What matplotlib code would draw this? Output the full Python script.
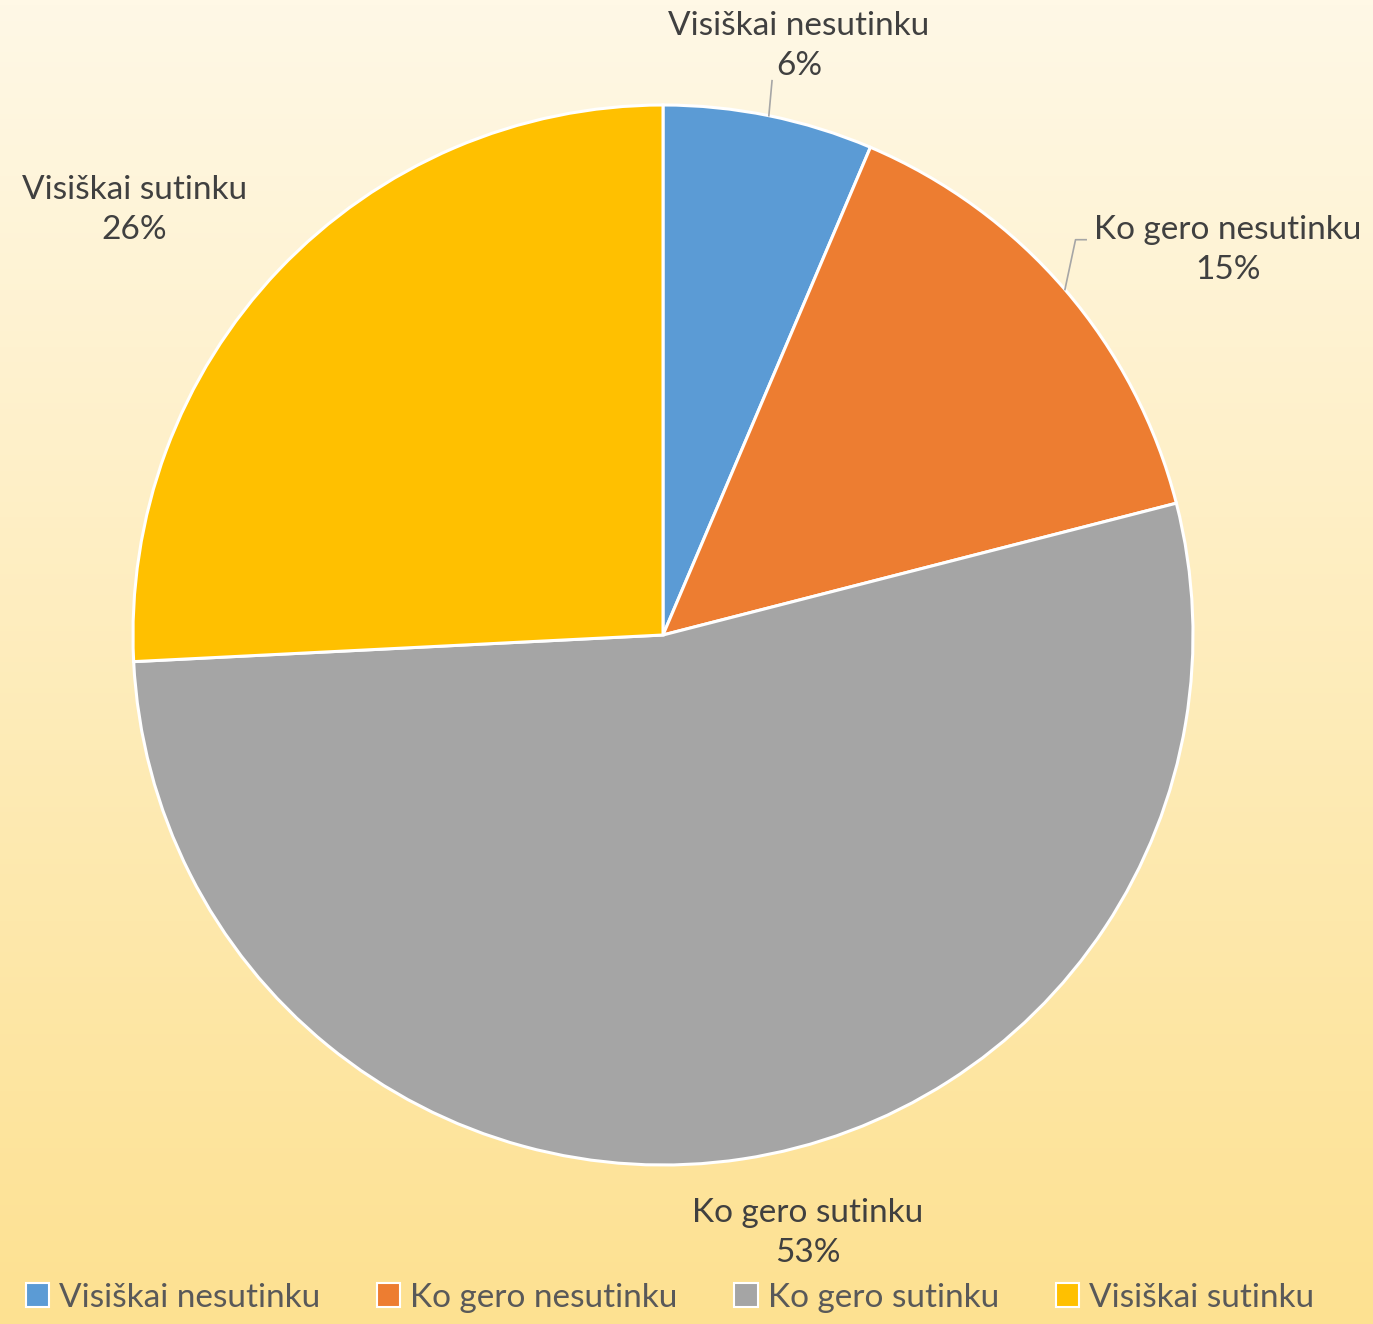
import numpy as np
import matplotlib.pyplot as plt
from matplotlib.colors import LinearSegmentedColormap

# --- Dados ---
categories = ['Visiškai nesutinku', 'Ko gero nesutinku', 'Ko gero sutinku', 'Visiškai sutinku']
shares = [6.4, 14.6, 53.2, 25.8]
pct_labels = ['6%', '15%', '53%', '26%']
colors = ['#5B9BD5', '#ED7D31', '#A5A5A5', '#FFC000']

TEXT = '#404040'
plt.rcParams['font.family'] = ['Lato', 'DejaVu Sans']

W, H = 1373, 1324
fig = plt.figure(figsize=(W / 100, H / 100), dpi=100)

# fundo em degradê
bg = fig.add_axes([0, 0, 1, 1])
grad = LinearSegmentedColormap.from_list('bg', ['#FFF8E6', '#FDE191'])
bg.imshow(np.linspace(0, 1, 256).reshape(-1, 1), aspect='auto', cmap=grad,
          extent=[0, 1, 0, 1], origin='upper')
bg.set_axis_off()

# eixo da pizza (centro ~ (663, 635), raio ~ 530 px)
cx, cy, r = 663, 635, 530
ax = fig.add_axes([(cx - r) / W, 1 - (cy + r) / H, 2 * r / W, 2 * r / H])
wedges, _ = ax.pie(shares, colors=colors, startangle=90, counterclock=False,
                   wedgeprops=dict(edgecolor='white', linewidth=2.2))
ax.set_xlim(-1, 1)
ax.set_ylim(-1, 1)
ax.set_aspect('equal')
ax.set_axis_off()

# posições dos rótulos (raio, ângulo) e se têm linha de ligação
label_pos = [(1.14, 77.0), (1.29, 34.3), (1.16, -76.4), (1.28, 141.2)]
leader = [True, True, False, False]

for w, name, pct, (lr, la), ld in zip(wedges, categories, pct_labels, label_pos, leader):
    mid = np.deg2rad((w.theta1 + w.theta2) / 2)
    tx, ty = lr * np.cos(np.deg2rad(la)), lr * np.sin(np.deg2rad(la))
    ax.text(tx, ty, f'{name}\n{pct}', ha='center', va='center', fontsize=24,
            color=TEXT, linespacing=1.42, clip_on=False)
    if ld:
        ex, ey = np.cos(mid), np.sin(mid)
        if name == 'Ko gero nesutinku':
            pts = [(ex, ey), (ex + 0.02, ey + 0.094), (ex + 0.04, ey + 0.094)]
        else:
            pts = [(ex, ey), (ex + 0.006, ey + 0.066)]
        xs, ys = zip(*pts)
        ax.plot(xs, ys, color='#A6A6A6', linewidth=1.2, clip_on=False)

leg = fig.legend(wedges, categories, loc='lower center', ncol=4,
                 bbox_to_anchor=(0.488, -0.014), frameon=False, fontsize=24,
                 handlelength=0.7, handleheight=0.7, handletextpad=0.3,
                 columnspacing=1.7)
for t in leg.get_texts():
    t.set_color('#595959')
for h in leg.legend_handles:
    h.set_edgecolor('white')
    h.set_linewidth(1.5)

fig.savefig('out.png', dpi=100)
